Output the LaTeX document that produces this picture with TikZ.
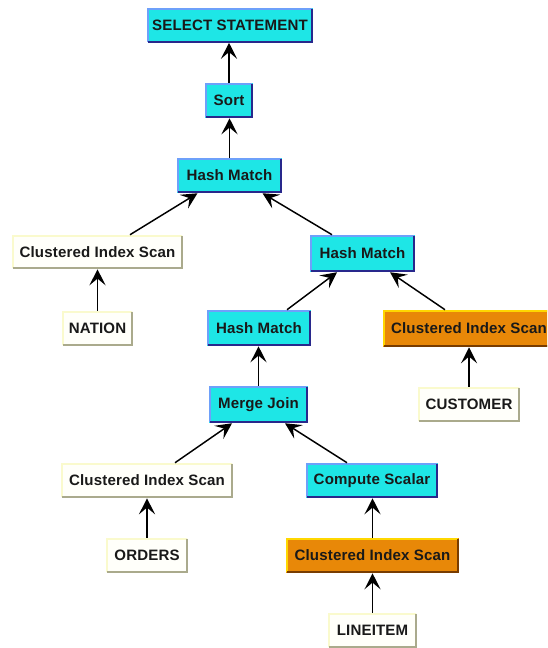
\documentclass[tikz,border=0pt]{standalone}
\usepackage{fontspec}
\setmainfont{Liberation Sans}[LetterSpace=1]
\usetikzlibrary{arrows.meta,calc}
\definecolor{cyfill}{RGB}{30,230,230}
\definecolor{cylight}{RGB}{110,160,250}
\definecolor{cydark}{RGB}{40,40,140}
\definecolor{orfill}{RGB}{232,136,8}
\definecolor{orlight}{RGB}{255,215,0}
\definecolor{ordark}{RGB}{120,60,0}
\definecolor{whfill}{RGB}{255,255,250}
\definecolor{whlight}{RGB}{250,250,205}
\definecolor{whdark}{RGB}{170,170,140}
\definecolor{txt}{RGB}{25,25,25}
\newcommand\bevel[3]{%
  \draw[#2,line width=1.5pt] ([xshift=0.6pt,yshift=0.6pt]#1.south west)--([xshift=0.6pt,yshift=-0.6pt]#1.north west)--([xshift=-0.6pt,yshift=-0.6pt]#1.north east);
  \draw[#3,line width=1.5pt] ([xshift=-0.6pt,yshift=-0.6pt]#1.north east)--([xshift=-0.6pt,yshift=0.6pt]#1.south east)--([xshift=0.6pt,yshift=0.6pt]#1.south west);}
\tikzset{
  opbox/.style={inner sep=0pt, text=txt, font=\fontsize{11.3pt}{13pt}\selectfont\bfseries},
  sz/.style 2 args={minimum width=#1*0.75pt, minimum height=#2*0.75pt},
  cy/.style={opbox, fill=cyfill},
  orb/.style={opbox, fill=orfill},
  wh/.style={opbox, fill=whfill},
  arr/.style={line width=1.1pt, -{Stealth[length=12pt,width=12pt,inset=5pt]}}
}
\begin{document}
\begin{tikzpicture}[x=0.75pt,y=-0.75pt]
\path[use as bounding box, clip] (0,0) rectangle (547,648);
\node[cy, sz={166}{34}] (sel) at (230,25.5) {SELECT STATEMENT};
\node[cy, sz={48}{35}] (sort) at (229,100.5) {Sort};
\node[cy, sz={105}{35}] (hmtop) at (229.5,175.5) {Hash Match};
\node[wh, sz={171}{34}] (cisn) at (97.5,252) {Clustered Index Scan};
\node[wh, sz={71}{35}] (nation) at (97.5,328.5) {NATION};
\node[cy, sz={105}{37}] (hmmid) at (362.5,253.5) {Hash Match};
\node[cy, sz={104}{36}] (hmleft) at (259,328) {Hash Match};
\node[orb, sz={172}{37}] (cisc) at (469,328.5) {Clustered Index Scan};
\node[wh, sz={102}{35}] (cust) at (469,404.5) {CUSTOMER};
\node[cy, sz={99}{37}] (merge) at (258.5,404.5) {Merge Join};
\node[wh, sz={172}{35}] (ciso) at (147,480.5) {Clustered Index Scan};
\node[cy, sz={132}{35}] (comp) at (372,480.5) {Compute Scalar};
\node[wh, sz={82}{35}] (orders) at (147,555.5) {ORDERS};
\node[orb, sz={173}{35}] (cisl) at (372.5,555.5) {Clustered Index Scan};
\node[wh, sz={89}{35}] (line) at (372.5,630.5) {LINEITEM};
\bevel{sel}{cylight}{cydark}
\bevel{sort}{cylight}{cydark}
\bevel{hmtop}{cylight}{cydark}
\bevel{hmmid}{cylight}{cydark}
\bevel{hmleft}{cylight}{cydark}
\bevel{merge}{cylight}{cydark}
\bevel{comp}{cylight}{cydark}
\bevel{cisc}{orlight}{ordark}
\bevel{cisl}{orlight}{ordark}
\bevel{cisn}{whlight}{whdark}
\bevel{nation}{whlight}{whdark}
\bevel{cust}{whlight}{whdark}
\bevel{ciso}{whlight}{whdark}
\bevel{orders}{whlight}{whdark}
\bevel{line}{whlight}{whdark}
% vertical connectors
\draw[arr] (sort.north) -- (sort.north |- sel.south);
\draw[arr] (hmtop.north) -- (hmtop.north |- sort.south);
\draw[arr] (nation.north) -- (nation.north |- cisn.south);
\draw[arr] (cust.north) -- (cust.north |- cisc.south);
\draw[arr] (merge.north) -- (merge.north |- hmleft.south);
\draw[arr] (orders.north) -- (orders.north |- ciso.south);
\draw[arr] (cisl.north) -- (cisl.north |- comp.south);
\draw[arr] (line.north) -- (line.north |- cisl.south);
% slanted connectors
\draw[arr] ([xshift=32.5*0.75pt]cisn.north) -- ([xshift=-32*0.75pt]hmtop.south);
\draw[arr] ([xshift=-30.5*0.75pt]hmmid.north) -- ([xshift=33*0.75pt]hmtop.south);
\draw[arr] ([xshift=28*0.75pt]hmleft.north) -- ([xshift=-25.5*0.75pt]hmmid.south);
\draw[arr] ([xshift=-24*0.75pt]cisc.north) -- ([xshift=27.5*0.75pt]hmmid.south);
\draw[arr] ([xshift=28*0.75pt]ciso.north) -- ([xshift=-26.5*0.75pt]merge.south);
\draw[arr] ([xshift=-25*0.75pt]comp.north) -- ([xshift=26.5*0.75pt]merge.south);
\end{tikzpicture}
\end{document}
